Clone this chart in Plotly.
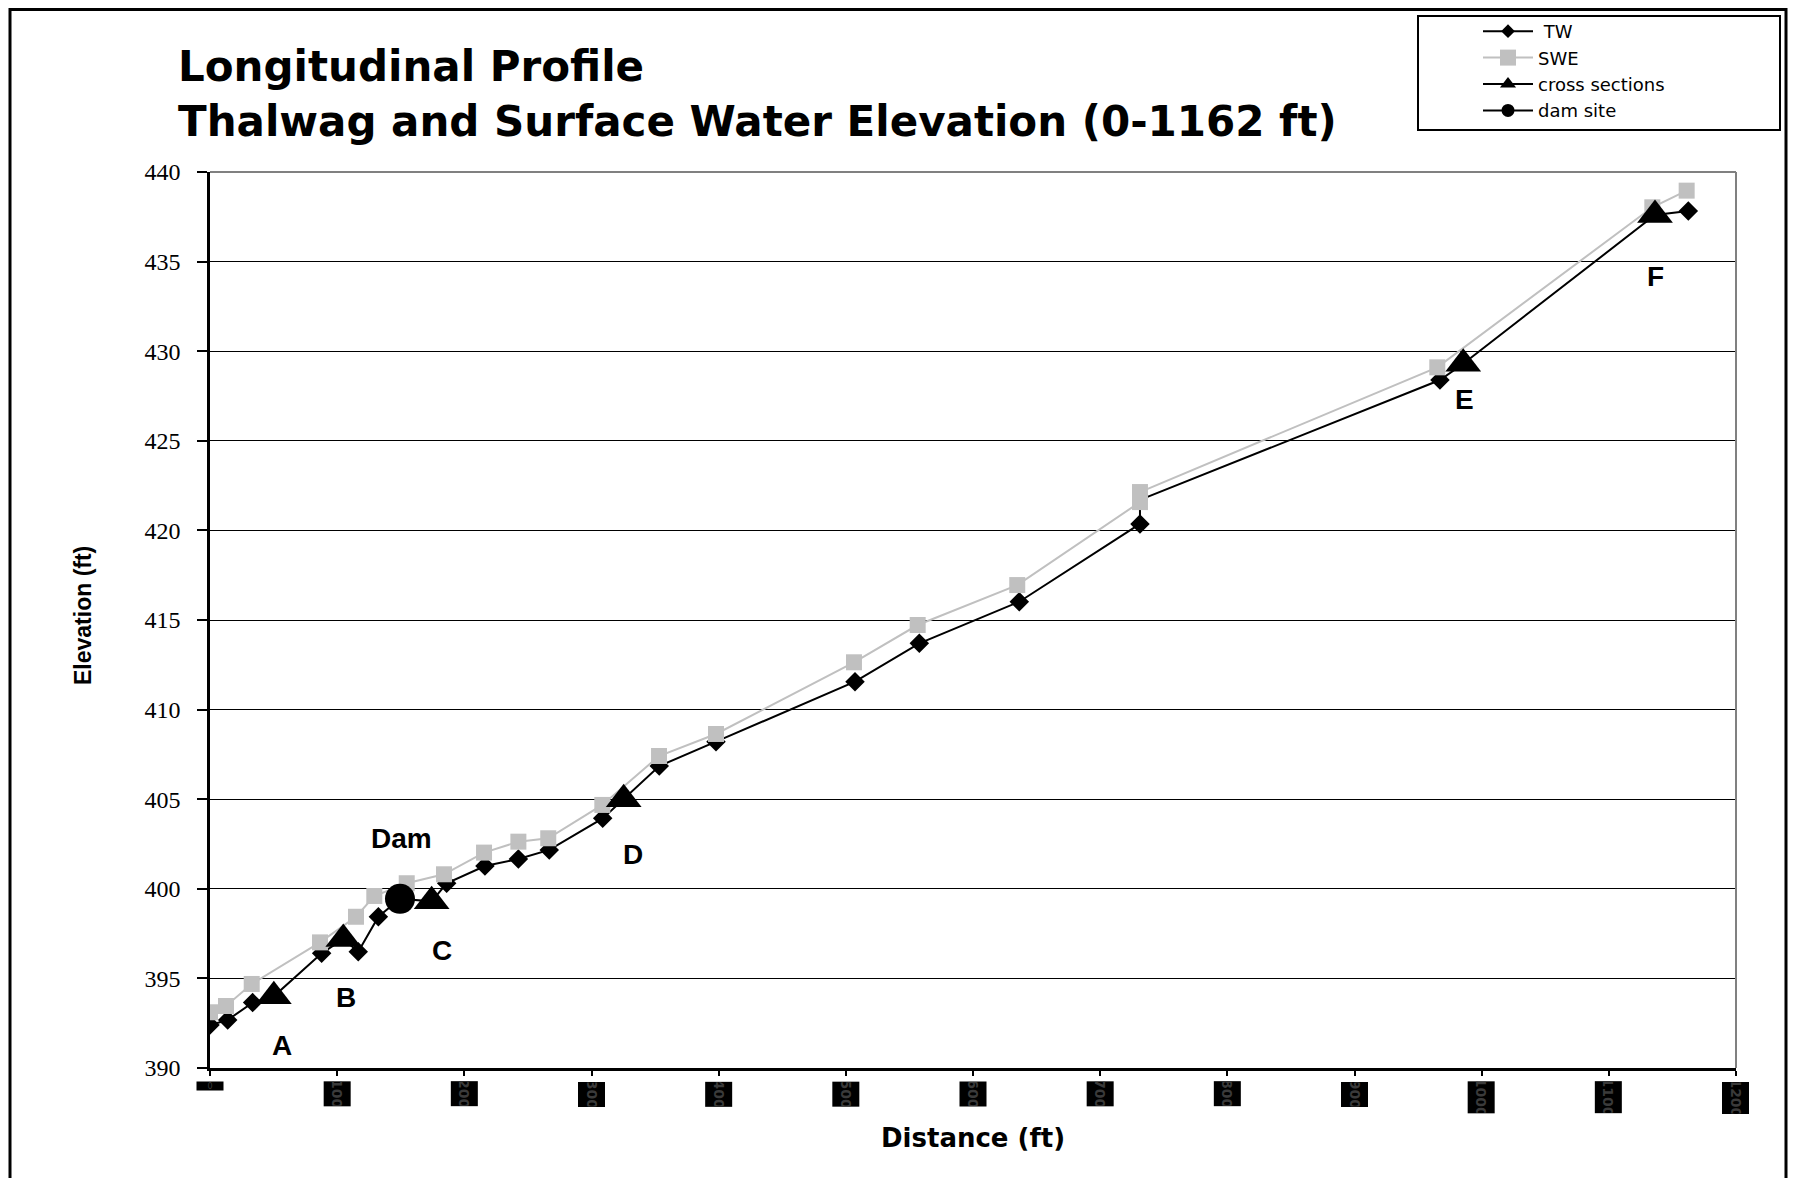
import plotly.graph_objects as go

# Thalwag (TW) profile, includes the points under the cross-section and dam markers
tw_dist = [0, 13.9, 33.5, 50.2, 87.8, 104.8, 116.6, 132.4, 149.4, 174.3, 186.1,
           216.2, 242.5, 266.8, 308.8, 325.3, 353.3, 397.9, 507.2, 557.8, 636.4,
           731.3, 731.3, 967.2, 985.5, 1136.3, 1162.5]
tw_elev = [392.40, 392.68, 393.65, 394.0, 396.40, 397.2, 396.49, 398.44, 399.44, 399.3, 400.31,
           401.27, 401.66, 402.17, 403.93, 405.0, 406.85, 408.21, 411.56, 413.70, 416.02,
           420.36, 421.7, 428.39, 429.3, 437.6, 437.82]

# Surface water elevation (SWE)
swe_dist = [0, 12.6, 32.8, 86.5, 114.8, 129.2, 154.7, 184.0, 215.5, 242.5, 266.0,
            308.5, 353.1, 397.9, 506.4, 556.5, 634.8, 731.3, 731.3, 965.1, 1134.2, 1161.2]
swe_elev = [393.11, 393.46, 394.69, 397.01, 398.44, 399.60, 400.31, 400.81, 402.02, 402.63, 402.82,
            404.68, 407.41, 408.64, 412.64, 414.72, 416.95, 421.58, 422.14, 429.10, 438.03, 438.96]

# cross sections A-F
xs_names = ["A", "B", "C", "D", "E", "F"]
xs_dist = [50.2, 104.8, 174.3, 325.3, 985.5, 1136.3]
xs_elev = [394.0, 397.2, 399.3, 405.0, 429.3, 437.6]
xs_label_dist = [56.6, 106.8, 182.2, 333.0, 986.7, 1136.4]
xs_label_elev = [391.24, 393.96, 396.58, 401.94, 427.28, 434.16]

# dam site
dam_dist = [149.4]
dam_elev = [399.44]
dam_label = (150.6, 402.78)

x_ticks = list(range(0, 1201, 100))
y_ticks = list(range(390, 441, 5))

W, H = 1805, 1178
PAGE = 8  # the figure div sits 8 px into the page
# plot area in page pixels
L, R, T, B = 210, 1736, 172, 1068


def fx(p):
    return (p - L) / (R - L)


def fy(p):
    return (B - p) / (B - T)


# TW points that sit under another marker get no diamond of their own
tw_sizes = []
for i, (d, e) in enumerate(zip(tw_dist, tw_elev)):
    hidden = d in xs_dist or d in dam_dist or (i > 0 and d == tw_dist[i - 1])
    tw_sizes.append(0 if hidden else 15)

fig = go.Figure()

fig.add_trace(go.Scatter(
    x=tw_dist, y=tw_elev, name="\u00a0TW", mode="lines+markers", legendrank=1,
    line=dict(color="black", width=2),
    marker=dict(symbol="diamond", size=tw_sizes, color="black", opacity=1, line=dict(width=0)),
))
fig.add_trace(go.Scatter(
    x=swe_dist, y=swe_elev, name="SWE", mode="lines+markers", legendrank=2,
    line=dict(color="#C0C0C0", width=2),
    marker=dict(symbol="square", size=16, color="#C0C0C0"),
))
fig.add_trace(go.Scatter(
    x=xs_dist, y=xs_elev, name="cross sections", mode="markers", showlegend=False,
    marker=dict(symbol="triangle-up", size=31, color="black"),
))
fig.add_trace(go.Scatter(
    x=dam_dist, y=dam_elev, name="dam site", mode="markers", showlegend=False,
    marker=dict(symbol="circle", size=30, color="black"),
))
# legend entries drawn with a line through the symbol, as in the original
fig.add_trace(go.Scatter(
    x=[None], y=[None], name="cross sections", mode="lines+markers", legendrank=3,
    line=dict(color="black", width=2), marker=dict(symbol="triangle-up", size=14, color="black"),
))
fig.add_trace(go.Scatter(
    x=[None], y=[None], name="dam site", mode="lines+markers", legendrank=4,
    line=dict(color="black", width=2), marker=dict(symbol="circle", size=13, color="black"),
))

bold = dict(family="Liberation Sans", size=28, color="black", weight="bold")
annotations = []
for name, xd, yd in zip(xs_names, xs_label_dist, xs_label_elev):
    annotations.append(dict(x=xd, y=yd, xref="x", yref="y", text=name, showarrow=False, font=bold))
annotations.append(dict(x=dam_label[0], y=dam_label[1], xref="x", yref="y", text="Dam",
                        showarrow=False, font=bold))

# x tick labels (they come out as small dark boxes in the original)
for t in x_ticks:
    if t == 0:
        annotations.append(dict(x=t, y=fy(1081), xref="x", yref="paper", xanchor="center", yanchor="top",
                                text=str(t), showarrow=False, textangle=0, width=26, height=8,
                                bgcolor="black", borderpad=0,
                                font=dict(family="DejaVu Sans", size=8, color="#3a3a3a")))
    else:
        annotations.append(dict(x=t, y=fy(1081), xref="x", yref="paper", xanchor="center", yanchor="top",
                                text=str(t), showarrow=False, textangle=90,
                                width=24 if t < 1000 else 31, height=26,
                                bgcolor="black", borderpad=0,
                                font=dict(family="DejaVu Sans", size=14, color="#3a3a3a", weight="bold")))

# titles
annotations.append(dict(x=fx(176), y=fy(94), xref="paper", yref="paper", xanchor="left", yanchor="middle",
                        align="left", showarrow=False,
                        text="Longitudinal Profile<br>Thalwag and Surface Water Elevation (0-1162 ft)",
                        font=dict(family="DejaVu Sans", size=42, color="black", weight="bold")))
annotations.append(dict(x=fx(973), y=fy(1138), xref="paper", yref="paper", xanchor="center", yanchor="middle",
                        text="Distance (ft)", showarrow=False,
                        font=dict(family="DejaVu Sans", size=26, color="black", weight="bold")))
annotations.append(dict(x=fx(83), y=fy(616), xref="paper", yref="paper", xanchor="center", yanchor="middle",
                        textangle=-90, text="Elevation (ft)", showarrow=False,
                        font=dict(family="Liberation Sans", size=23, color="black", weight="bold")))

shapes = [
    # outer frame
    dict(type="rect", xref="paper", yref="paper", x0=fx(10), x1=fx(1786), y0=fy(1190), y1=fy(9.5),
         line=dict(color="black", width=3), layer="below"),
    # legend box
    dict(type="rect", xref="paper", yref="paper", x0=fx(1418), x1=fx(1780), y0=fy(130), y1=fy(16),
         line=dict(color="black", width=2), layer="below"),
    # grey top / right border of the plot area
    dict(type="line", xref="paper", yref="paper", x0=0, x1=1, y0=1, y1=1,
         line=dict(color="#808080", width=2), layer="above"),
    dict(type="line", xref="paper", yref="paper", x0=1, x1=1, y0=0, y1=1,
         line=dict(color="#808080", width=2), layer="above"),
]

fig.update_layout(
    width=W, height=H,
    margin=dict(l=L - PAGE, r=W - (R - PAGE), t=T - PAGE, b=H - (B - PAGE), autoexpand=False),
    paper_bgcolor="white", plot_bgcolor="white",
    showlegend=True,
    legend=dict(xref="container", yref="container", x=(1478 - PAGE) / W, y=1 - (13 - PAGE) / H,
                xanchor="left", yanchor="top", itemwidth=50,
                bgcolor="rgba(0,0,0,0)", borderwidth=0, tracegroupgap=0,
                font=dict(family="DejaVu Sans", size=18, color="black")),
    annotations=annotations,
    shapes=shapes,
)
fig.update_xaxes(range=[0, 1200], tickvals=x_ticks, showticklabels=False,
                 ticks="outside", ticklen=5, tickwidth=2, tickcolor="black",
                 showgrid=False, zeroline=False,
                 showline=True, linecolor="black", linewidth=3)
fig.update_yaxes(range=[390, 440], tickvals=y_ticks,
                 ticks="outside", ticklen=10, tickwidth=2, tickcolor="black",
                 tickfont=dict(family="Liberation Serif", size=24, color="black"),
                 ticklabelstandoff=12,
                 showgrid=True, gridcolor="black", gridwidth=1, zeroline=False,
                 showline=True, linecolor="black", linewidth=2.5)

fig.write_html("out.html")
